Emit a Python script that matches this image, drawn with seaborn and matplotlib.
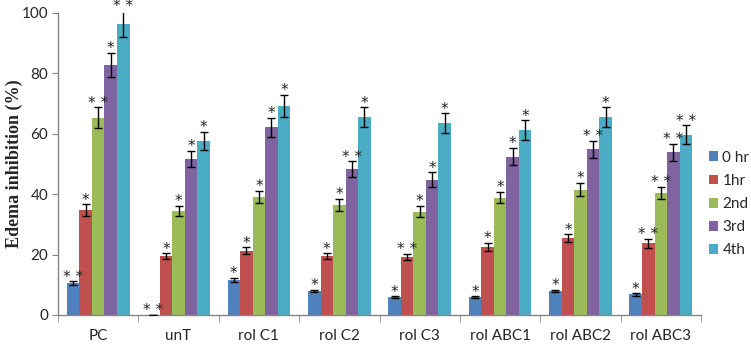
import numpy as np
import pandas as pd
import seaborn as sns
import matplotlib
matplotlib.use("Agg")
import matplotlib.pyplot as plt

categories = ["PC", "unT", "rol C1", "rol C2", "rol C3", "rol ABC1", "rol ABC2", "rol ABC3"]
series = ["0 hr", "1hr", "2nd", "3rd", "4th"]

v_0hr = [10.5, 0.0, 11.6, 7.9, 5.85, 5.85, 7.9, 6.8]
v_1hr = [34.7, 19.4, 21.3, 19.5, 19.1, 22.5, 25.5, 23.8]
v_2nd = [65.3, 34.5, 39.1, 36.4, 34.2, 38.8, 41.5, 40.4]
v_3rd = [82.7, 51.7, 62.1, 48.3, 44.8, 52.4, 54.8, 53.8]
v_4th = [96.3, 57.6, 69.1, 65.4, 63.4, 61.1, 65.4, 59.7]

e_0hr = [0.6, 0.0, 0.6, 0.4, 0.3, 0.3, 0.4, 0.4]
e_1hr = [1.9, 1.0, 1.1, 0.9, 1.05, 1.3, 1.2, 1.5]
e_2nd = [3.4, 1.7, 1.9, 2.0, 1.8, 1.9, 2.2, 2.1]
e_3rd = [4.1, 2.6, 3.1, 2.5, 2.4, 2.8, 2.9, 2.7]
e_4th = [4.3, 3.0, 3.6, 3.3, 3.3, 3.3, 3.3, 3.0]

s_0hr = ["**", "**", "*", "*", "*", "*", "*", "*"]
s_1hr = ["*", "*", "*", "*", "**", "*", "*", "**"]
s_2nd = ["**", "*", "*", "*", "*", "*", "*", "**"]
s_3rd = ["*", "*", "*", "**", "*", "*", "**", "**"]
s_4th = ["**", "*", "*", "*", "*", "*", "*", "**"]

colors = ["#4F81BD", "#C0504D", "#9BBB59", "#8064A2", "#4BACC6"]

values = [v_0hr, v_1hr, v_2nd, v_3rd, v_4th]
errors = [e_0hr, e_1hr, e_2nd, e_3rd, e_4th]
stars = [s_0hr, s_1hr, s_2nd, s_3rd, s_4th]

rows = []
for si, s in enumerate(series):
    for ci, c in enumerate(categories):
        rows.append({"cat": c, "series": s, "val": values[si][ci]})
df = pd.DataFrame(rows)

sns.set_style("white")
plt.rcParams["font.family"] = ["Lato", "DejaVu Sans"]

fig = plt.figure(figsize=(7.51, 3.44), dpi=100)
ax = fig.add_axes([58 / 751, 29 / 344, (701 - 58) / 751, (315 - 12.7) / 344])

sns.barplot(data=df, x="cat", y="val", hue="series", order=categories,
            hue_order=series, palette=colors, width=0.78, errorbar=None,
            saturation=1, linewidth=0, ax=ax)

bar_containers = list(ax.containers)
for si, cont in enumerate(bar_containers):
    for ci, patch in enumerate(cont.patches):
        xc = patch.get_x() + patch.get_width() / 2
        h = values[si][ci]
        e = errors[si][ci]
        ax.errorbar(xc, h, yerr=e, fmt="none", ecolor="black", elinewidth=1,
                    capsize=3, capthick=1, zorder=5)
        st = " ".join(list(stars[si][ci]))
        ax.text(xc, h + e + 1.4, st, ha="center", va="center", fontsize=11,
                family="DejaVu Sans", color="#222222", clip_on=False)

ax.set_ylim(0, 100)
ax.set_xlim(-0.5, len(categories) - 0.5)
ax.set_yticks([0, 20, 40, 60, 80, 100])
ax.tick_params(axis="y", labelsize=11, length=4, color="#868686", left=True, pad=3)
ax.set_xticks(np.arange(len(categories)))
ax.set_xticklabels(categories)
ax.tick_params(axis="x", which="major", labelsize=11, length=0, pad=10)
ax.set_xticks(list(np.arange(len(categories)) - 0.5) + [len(categories) - 0.5], minor=True)
ax.tick_params(axis="x", which="minor", length=5, color="#868686", bottom=True)

for side in ["top", "right"]:
    ax.spines[side].set_visible(False)
for side in ["left", "bottom"]:
    ax.spines[side].set_color("#868686")
    ax.spines[side].set_linewidth(1)

ax.set_xlabel("")
ax.set_ylabel("Edema inhibition (%)", family="Liberation Serif", fontweight="bold",
              fontsize=13)
ax.yaxis.set_label_coords(-35 / 643, 0.5)

leg = ax.legend(loc="center left", bbox_to_anchor=(1.0, 0.367), frameon=False,
                fontsize=11, handlelength=0.6, handleheight=0.6, handletextpad=0.3,
                labelspacing=0.6, borderaxespad=0.1)

fig.savefig("out.png", dpi=100)
